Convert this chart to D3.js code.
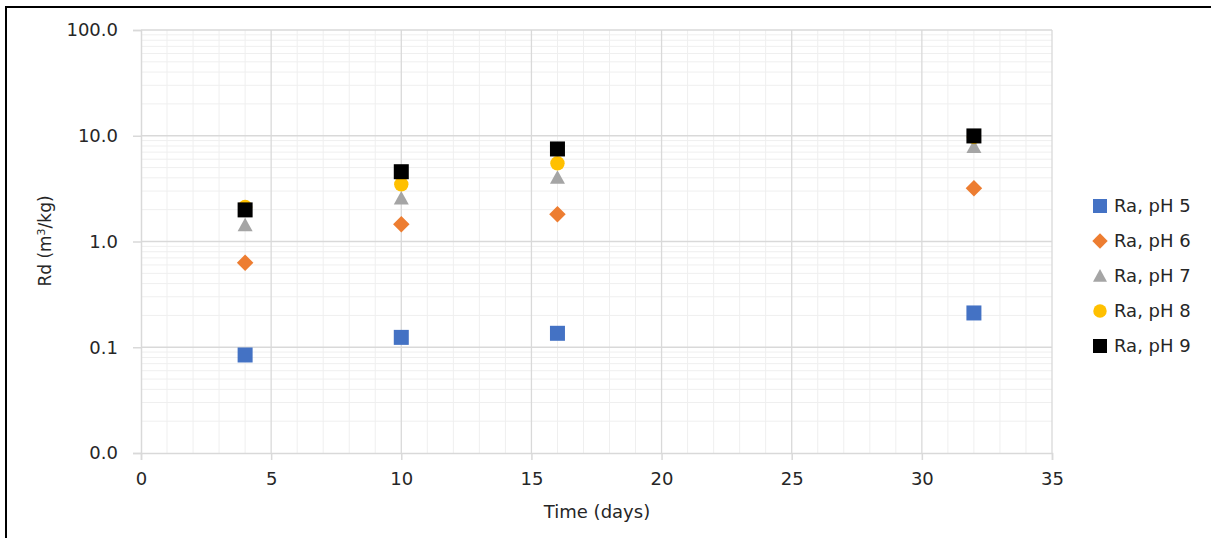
<!DOCTYPE html>
<html>
<head>
<meta charset="utf-8">
<script src="https://cdn.jsdelivr.net/npm/d3@7"></script>
<style>
  html, body { margin: 0; padding: 0; background: #fff; }
  svg { display: block; }
  text { font-family: "DejaVu Sans", "Open Sans", sans-serif; fill: #262626; }
</style>
</head>
<body>
<svg id="chart" width="1211" height="538"></svg>
<script>
const days = [4, 10, 16, 32];
const seriesNames = ["Ra, pH 5", "Ra, pH 6", "Ra, pH 7", "Ra, pH 8", "Ra, pH 9"];
const pH5 = [0.0845, 0.124, 0.1355, 0.211];
const pH6 = [0.630, 1.455, 1.81, 3.18];
const pH7 = [1.43, 2.56, 4.01, 7.83];
const pH8 = [2.12, 3.47, 5.49, 9.73];
const pH9 = [1.99, 4.57, 7.50, 9.96];
const xTicks = [0, 5, 10, 15, 20, 25, 30, 35];
const yTicks = [0.01, 0.1, 1, 10, 100];
const colors = ["#4472C4", "#ED7D31", "#A5A5A5", "#FFC000", "#000000"];
const shapes = ["square", "diamond", "triangle", "circle", "square"];

const series = [pH5, pH6, pH7, pH8, pH9].map((vals, i) => ({
  name: seriesNames[i], color: colors[i], shape: shapes[i],
  points: vals.map((v, j) => ({ x: days[j], y: v }))
}));

const svg = d3.select("#chart");
const mLeft = 141, mRight = 1052, mTop = 30, mBottom = 453;
const fs = "18px";

const x = d3.scaleLinear().domain([0, 35]).range([mLeft, mRight]);
const y = d3.scaleLog().domain([0.01, 100]).range([mBottom, mTop]);

// outer frame
svg.append("rect").attr("x", 6).attr("y", 7).attr("width", 1220).attr("height", 560)
  .attr("fill", "none").attr("stroke", "#000").attr("stroke-width", 2);

// minor gridlines
const g = svg.append("g");
const minorX = d3.range(0, 36, 1).filter(d => d % 5 !== 0);
g.selectAll(".mx").data(minorX).join("line")
  .attr("x1", d => x(d)).attr("x2", d => x(d)).attr("y1", mTop).attr("y2", mBottom)
  .attr("stroke", "#efefef").attr("stroke-width", 1);
const minorY = [];
[0.01, 0.1, 1, 10].forEach(b => { for (let k = 2; k <= 9; k++) minorY.push(b * k); });
g.selectAll(".my").data(minorY).join("line")
  .attr("x1", mLeft).attr("x2", mRight).attr("y1", d => y(d)).attr("y2", d => y(d))
  .attr("stroke", "#efefef").attr("stroke-width", 1);
// major gridlines
g.selectAll(".Mx").data(xTicks.slice(1)).join("line")
  .attr("x1", d => x(d)).attr("x2", d => x(d)).attr("y1", mTop).attr("y2", mBottom)
  .attr("stroke", "#d9d9d9").attr("stroke-width", 1.3);
g.selectAll(".My").data(yTicks.slice(1)).join("line")
  .attr("x1", mLeft).attr("x2", mRight).attr("y1", d => y(d)).attr("y2", d => y(d))
  .attr("stroke", "#d9d9d9").attr("stroke-width", 1.3);

// axes
const xAxis = d3.axisBottom(x).tickValues(xTicks).tickSize(7).tickPadding(12).tickFormat(d3.format("d"));
const xg = svg.append("g").attr("transform", `translate(0,${mBottom})`).call(xAxis);
const yAxis = d3.axisLeft(y).tickValues(yTicks).tickSize(8).tickPadding(15).tickFormat(d => d.toFixed(1));
const yg = svg.append("g").attr("transform", `translate(${mLeft},0)`).call(yAxis);
[xg, yg].forEach(a => {
  a.select(".domain").attr("stroke", "#d9d9d9").attr("stroke-width", 1.5);
  a.selectAll(".tick line").attr("stroke", "#d9d9d9").attr("stroke-width", 1.5);
  a.selectAll("text").style("font-size", fs).attr("fill", "#262626")
    .style("font-family", "'DejaVu Sans', 'Open Sans', sans-serif");
});

// axis titles
svg.append("text").attr("x", 597).attr("y", 518).attr("text-anchor", "middle")
  .style("font-size", fs).text("Time (days)");
const yt = svg.append("text").attr("transform", "translate(51,241) rotate(-90)")
  .attr("text-anchor", "middle").style("font-size", "17px");
yt.append("tspan").text("Rd (m");
yt.append("tspan").attr("dy", -6).style("font-size", "11px").text("3");
yt.append("tspan").attr("dy", 6).text("/kg)");

function drawShape(sel, shape, size) {
  if (shape === "square") {
    sel.append("rect").attr("x", -size / 2).attr("y", -size / 2).attr("width", size).attr("height", size);
  } else if (shape === "diamond") {
    const r = size * 0.55;
    sel.append("path").attr("d", `M0,${-r}L${r},0L0,${r}L${-r},0Z`);
  } else if (shape === "triangle") {
    const h = size * 0.9, w = size;
    sel.append("path").attr("d", `M0,${-h * 0.55}L${w / 2},${h * 0.45}L${-w / 2},${h * 0.45}Z`);
  } else if (shape === "circle") {
    sel.append("circle").attr("r", size * 0.48);
  }
}

// points
series.forEach(s => {
  const sg = svg.append("g").attr("fill", s.color);
  s.points.forEach(p => {
    const m = sg.append("g").attr("transform", `translate(${x(p.x)},${y(p.y)})`);
    drawShape(m, s.shape, 15);
  });
});

// legend
const legendY = d3.scalePoint().domain(seriesNames).range([206, 346]);
series.forEach(s => {
  const lg = svg.append("g").attr("transform", `translate(1100,${legendY(s.name)})`).attr("fill", s.color);
  drawShape(lg, s.shape, 14);
  svg.append("text").attr("x", 1114).attr("y", legendY(s.name)).attr("dy", "0.35em")
    .style("font-size", fs).text(s.name);
});
</script>
</body>
</html>
